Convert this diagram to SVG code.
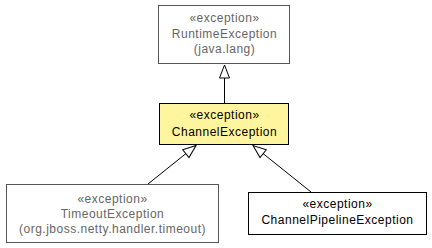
<svg xmlns="http://www.w3.org/2000/svg" width="432" height="248" viewBox="0 0 432 248">
<defs>
<style>
.box{fill:#ffffff;stroke:#000000;stroke-width:1}
.gray{stroke:#555555}
.yellow{fill:#fff59f}
text{font-family:"Liberation Sans",Arial,sans-serif;font-size:12px;letter-spacing:0.5px;text-anchor:middle;fill:#000000}
.gt{fill:#666666}
.edge{stroke:#000000;stroke-width:1;fill:none;marker-end:url(#tri)}
</style>
<marker id="tri" markerUnits="userSpaceOnUse" markerWidth="16" markerHeight="14" refX="14" refY="6" orient="auto" overflow="visible">
<path d="M14,6 L1,1 L1,11 Z" fill="#ffffff" stroke="#000000" stroke-width="1"/>
</marker>
</defs>
<rect width="432" height="248" fill="#ffffff"/>
<g id="connectors">
<line class="edge" x1="224.5" y1="103" x2="224.5" y2="65"/>
<line class="edge" x1="148" y1="184" x2="196" y2="145.5"/>
<line class="edge" x1="311" y1="192" x2="253" y2="145.5"/>
</g>
<g id="RuntimeException">
<rect class="box gray" x="158.5" y="5.5" width="131" height="58"/>
<text class="gt" x="224.5" y="22">«exception»</text>
<text class="gt" x="224.5" y="38">RuntimeException</text>
<text class="gt" x="224.5" y="53">(java.lang)</text>
</g>
<g id="ChannelException">
<rect class="box yellow" x="159.5" y="103.5" width="129" height="41"/>
<text x="224.5" y="119">«exception»</text>
<text x="224.5" y="136">ChannelException</text>
</g>
<g id="TimeoutException">
<rect class="box gray" x="6.5" y="184.5" width="212" height="58"/>
<text class="gt" x="112.5" y="203">«exception»</text>
<text class="gt" x="112.5" y="218">TimeoutException</text>
<text class="gt" x="112.5" y="233">(org.jboss.netty.handler.timeout)</text>
</g>
<g id="ChannelPipelineException">
<rect class="box" x="248.5" y="192.5" width="178" height="42"/>
<text x="337.5" y="208">«exception»</text>
<text x="337.5" y="224">ChannelPipelineException</text>
</g>
</svg>
